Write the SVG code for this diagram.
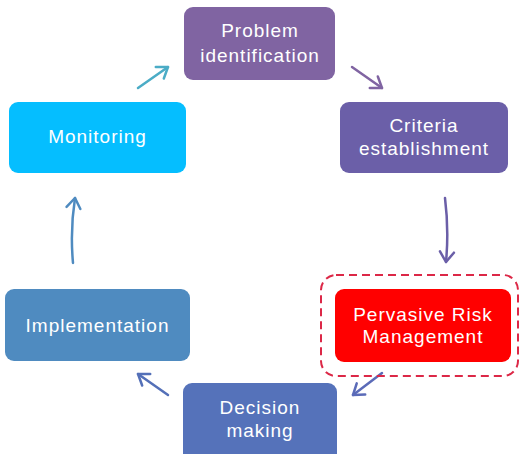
<svg xmlns="http://www.w3.org/2000/svg" width="520" height="454" viewBox="0 0 520 454">
<style>
.box{stroke:none}
.t{font-family:"Liberation Sans",Arial,sans-serif;font-size:19px;fill:#fff;text-anchor:middle;letter-spacing:1px}
.c{fill:none;stroke-width:2.5;stroke-linecap:round}
</style>
<defs>
<marker id="m1" markerUnits="userSpaceOnUse" markerWidth="30" markerHeight="30" viewBox="-15 -15 30 30" refX="0" refY="0" orient="auto"><path d="M-10,-7 L0,0 L-10,7" fill="none" stroke="#4BACC6" stroke-width="2.5" stroke-linecap="round" stroke-linejoin="round"/></marker>
<marker id="m2" markerUnits="userSpaceOnUse" markerWidth="30" markerHeight="30" viewBox="-15 -15 30 30" refX="0" refY="0" orient="auto"><path d="M-10,-7 L0,0 L-10,7" fill="none" stroke="#8064A2" stroke-width="2.5" stroke-linecap="round" stroke-linejoin="round"/></marker>
<marker id="m3" markerUnits="userSpaceOnUse" markerWidth="30" markerHeight="30" viewBox="-15 -15 30 30" refX="0" refY="0" orient="auto"><path d="M-10,-7 L0,0 L-10,7" fill="none" stroke="#6B5FA8" stroke-width="2.5" stroke-linecap="round" stroke-linejoin="round"/></marker>
<marker id="m4" markerUnits="userSpaceOnUse" markerWidth="30" markerHeight="30" viewBox="-15 -15 30 30" refX="0" refY="0" orient="auto"><path d="M-10,-7 L0,0 L-10,7" fill="none" stroke="#5B6BB8" stroke-width="2.5" stroke-linecap="round" stroke-linejoin="round"/></marker>
<marker id="m5" markerUnits="userSpaceOnUse" markerWidth="30" markerHeight="30" viewBox="-15 -15 30 30" refX="0" refY="0" orient="auto"><path d="M-10,-7 L0,0 L-10,7" fill="none" stroke="#5470B8" stroke-width="2.5" stroke-linecap="round" stroke-linejoin="round"/></marker>
<marker id="m6" markerUnits="userSpaceOnUse" markerWidth="30" markerHeight="30" viewBox="-15 -15 30 30" refX="0" refY="0" orient="auto"><path d="M-10,-7 L0,0 L-10,7" fill="none" stroke="#4F8BC0" stroke-width="2.5" stroke-linecap="round" stroke-linejoin="round"/></marker>
</defs>
<rect width="520" height="454" fill="#fff"/>
<g id="connectors">
<path class="c" d="M138,88 L168,67" stroke="#4BACC6" marker-end="url(#m1)"/>
<path class="c" d="M352,67 L382,88" stroke="#8064A2" marker-end="url(#m2)"/>
<path class="c" d="M445,198 Q449,230 446,262" stroke="#6B5FA8" marker-end="url(#m3)"/>
<path class="c" d="M382,373 L353,395" stroke="#5B6BB8" marker-end="url(#m4)"/>
<path class="c" d="M168,395 L138,374" stroke="#5470B8" marker-end="url(#m5)"/>
<path class="c" d="M73,263 Q70,230 75,198" stroke="#4F8BC0" marker-end="url(#m6)"/>
</g>
<g id="problem">
<rect class="box" x="184" y="7" width="151" height="73" rx="9" fill="#8064A2"/>
<text class="t" x="260" y="37">Problem</text>
<text class="t" x="260" y="62">identification</text>
</g>
<g id="criteria">
<rect class="box" x="340" y="102" width="168" height="71" rx="9" fill="#6B5FA8"/>
<text class="t" x="424" y="132">Criteria</text>
<text class="t" x="424" y="155">establishment</text>
</g>
<g id="risk">
<rect x="321" y="275" width="197" height="101" rx="15" fill="none" stroke="#DC2847" stroke-width="2" stroke-dasharray="8,5"/>
<rect class="box" x="335" y="289" width="176" height="73" rx="9" fill="#FF0000"/>
<text class="t" x="423" y="321">Pervasive Risk</text>
<text class="t" x="423" y="343">Management</text>
</g>
<g id="decision">
<rect class="box" x="183" y="383" width="154" height="80" rx="9" fill="#5572BA"/>
<text class="t" x="260" y="414">Decision</text>
<text class="t" x="260" y="437">making</text>
</g>
<g id="implementation">
<rect class="box" x="5" y="289" width="185" height="72" rx="9" fill="#4F8BC0"/>
<text class="t" x="97.5" y="332">Implementation</text>
</g>
<g id="monitoring">
<rect class="box" x="9" y="102" width="177" height="71" rx="9" fill="#05BEFF"/>
<text class="t" x="97.5" y="143">Monitoring</text>
</g>
</svg>
